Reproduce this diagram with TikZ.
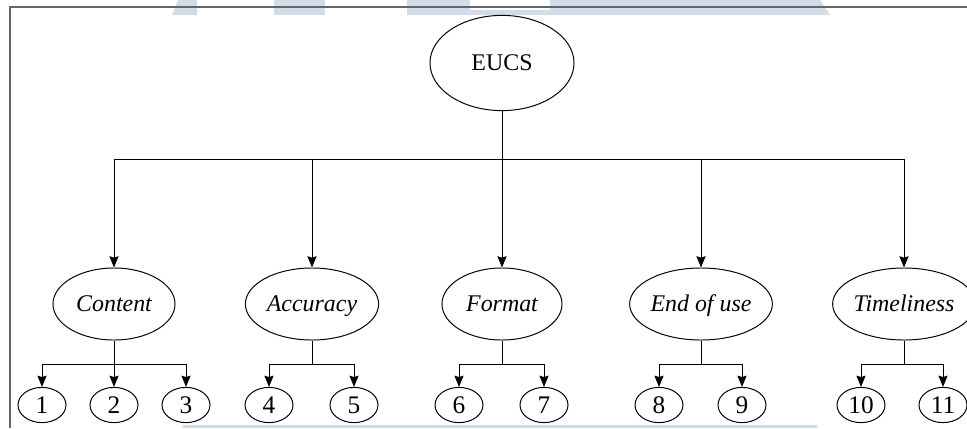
\documentclass[tikz,border=0pt]{standalone}
\usepackage{fontspec}
\setmainfont{Liberation Serif}
\usepackage{tikz}
\usetikzlibrary{arrows.meta, positioning, shapes.geometric}

\definecolor{markblue}{RGB}{208,220,232}
\definecolor{framegray}{RGB}{102,102,102}

\begin{document}
\begin{tikzpicture}[
    x=0.025cm, y=-0.025cm,
    root/.style={
        draw, ellipse, line width=0.7pt, inner sep=0pt,
        minimum width=3.6cm, minimum height=2.38cm,
        text height=12pt, text depth=1pt,
        font=\fontsize{17}{20}\selectfont
    },
    dim/.style={
        draw, ellipse, line width=0.7pt, inner sep=0pt,
        minimum width=3.05cm, minimum height=1.8cm,
        text height=12pt, text depth=1pt,
        font=\fontsize{17}{20}\selectfont\itshape
    },
    item/.style={
        draw, ellipse, line width=0.7pt, inner sep=0pt,
        minimum width=1.2cm, minimum height=0.88cm,
        text height=12.5pt, text depth=1pt,
        font=\fontsize{18}{20}\selectfont
    },
    arr/.style={-{Stealth[length=8pt, width=6.5pt, inset=1pt]}, line width=0.7pt},
    link/.style={line width=0.7pt}
]
    \useasboundingbox (0,0) rectangle (967,428);

    % watermark strips
    \fill[markblue] (172,15) -- (178,0) -- (197,0) -- (197,15) -- cycle;
    \fill[markblue] (274,0) rectangle (325,15);
    \fill[markblue] (407,0) -- (820,0) -- (830,15) -- (407,15) -- cycle;
    \fill[white] (470,0) rectangle (550,10);
    \fill[markblue] (183,425) rectangle (817,428);

    % frame
    \draw[framegray, line width=1.1pt] (967,7) -- (10,7) -- (10,428);

    % Top: EUCS
    \node[root] (eucs) at (502,63) {EUCS};

    % Dimensions
    \node[dim] (content)    at (114,304) {Content};
    \node[dim, minimum width=3.33cm] (accuracy) at (312,304) {Accuracy};
    \node[dim, minimum width=3.0cm]  (format)   at (502,304) {Format};
    \node[dim] (enduse)     at (701,304) {End of use};
    \node[dim] (timeliness) at (904,304) {Timeliness};

    \draw[link] (eucs.south) -- ++(0,48) coordinate (hub);
    \draw[arr] (hub) -| (content.north);
    \draw[arr] (hub) -| (accuracy.north);
    \draw[arr] (hub) -- (format.north);
    \draw[arr] (hub) -| (enduse.north);
    \draw[arr] (hub) -| (timeliness.north);

    % Items under each dimension
    \node[item] (n1)  at (42,405)  {1};
    \node[item] (n2)  at (114,405) {2};
    \node[item] (n3)  at (186,405) {3};
    \node[item] (n4)  at (269,405) {4};
    \node[item] (n5)  at (354,405) {5};
    \node[item] (n6)  at (459,405) {6};
    \node[item] (n7)  at (544,405) {7};
    \node[item] (n8)  at (659,405) {8};
    \node[item] (n9)  at (742,405) {9};
    \node[item] (n10) at (861,405) {10};
    \node[item] (n11) at (943,405) {11};

    \draw[link] (content.south) -- ++(0,24) coordinate (c1);
    \draw[arr] (c1) -| (n1.north);
    \draw[arr] (c1) -- (n2.north);
    \draw[arr] (c1) -| (n3.north);

    \draw[link] (accuracy.south) -- ++(0,24) coordinate (c2);
    \draw[arr] (c2) -| (n4.north);
    \draw[arr] (c2) -| (n5.north);

    \draw[link] (format.south) -- ++(0,24) coordinate (c3);
    \draw[arr] (c3) -| (n6.north);
    \draw[arr] (c3) -| (n7.north);

    \draw[link] (enduse.south) -- ++(0,24) coordinate (c4);
    \draw[arr] (c4) -| (n8.north);
    \draw[arr] (c4) -| (n9.north);

    \draw[link] (timeliness.south) -- ++(0,24) coordinate (c5);
    \draw[arr] (c5) -| (n10.north);
    \draw[arr] (c5) -| (n11.north);
\end{tikzpicture}
\end{document}
